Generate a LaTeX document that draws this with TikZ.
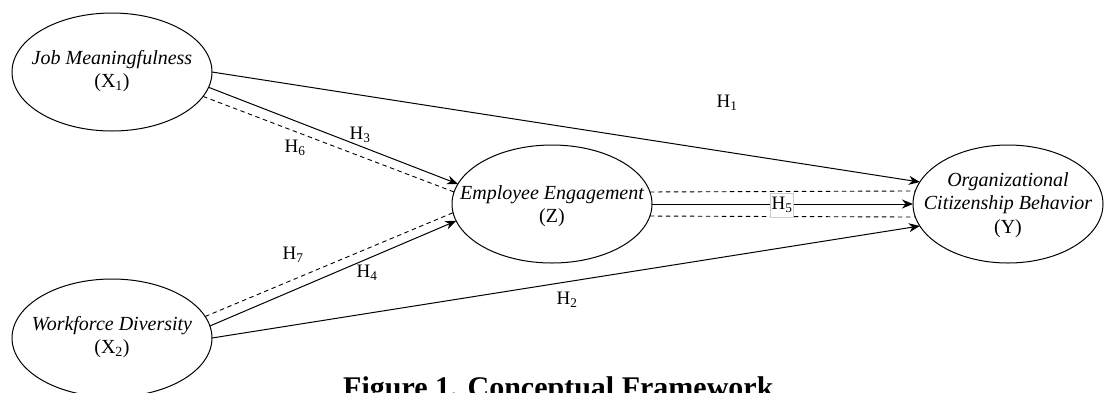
\documentclass[tikz,border=0pt]{standalone}
\usepackage{fontspec}
\setmainfont{Liberation Serif}
\usetikzlibrary{arrows.meta,shapes.geometric}
\begin{document}
\begin{tikzpicture}[x=1pt,y=-1pt,
  ell/.style={draw, ellipse, line width=1pt, minimum width=200pt, minimum height=118pt, inner sep=0pt, outer sep=0pt},
  nodetxt/.style={font=\fontsize{20}{23.5}\selectfont\itshape, align=center, inner sep=0pt},
  hyp/.style={font=\fontsize{19}{21}\selectfont, inner sep=1pt},
  solidarrow/.style={line width=1pt, -{Stealth[length=11pt,width=9pt]}},
  dashline/.style={line width=0.9pt, dash pattern=on 4.5pt off 3.5pt},
]
\useasboundingbox (0,0) rectangle (1105,392);
% ellipses
\node[ell] (X1) at (112,72) {};
\node[ell] (X2) at (112,338) {};
\node[ell] (Z) at (552,204) {};
\node[ell, minimum width=190pt] (Y) at (1008,204) {};
% texts
\node[nodetxt] (tX1) at (112,71) {Job Meaningfulness\\\upshape(X\textsubscript{1})};
\node[nodetxt] (tX2) at (112,337) {Workforce Diversity\\\upshape(X\textsubscript{2})};
\node[nodetxt] (tZ) at (552,206) {Employee Engagement\\\upshape(Z)};
\node[nodetxt] (tY) at (1008,205) {Organizational\\Citizenship Behavior\\\upshape(Y)};
% connectors
\draw[solidarrow] (X1.0) -- (Y.166.4);
\draw[solidarrow] (X1.-9.6) -- (Z.168.7);
\draw[dashline] (X1.-15.6) -- (Z.173);
\draw[dashline] (X2.13.9) -- (Z.185);
\draw[solidarrow] (X2.7.6) -- (Z.190.7);
\draw[solidarrow] (X2.0.6) -- (Y.194.8);
\draw[dashline] (Z.7.6) -- (Y.172);
\draw[dashline] (Z.-7.6) -- (Y.188);
\draw[solidarrow] (Z.0) -- (Y.180);
% labels
\node[hyp] (h1) at (727,103) {H\textsubscript{1}};
\node[hyp] (h3) at (360,135) {H\textsubscript{3}};
\node[hyp] (h6) at (295,148) {H\textsubscript{6}};
\node[hyp] (h7) at (293,255) {H\textsubscript{7}};
\node[hyp] (h4) at (367,273) {H\textsubscript{4}};
\node[hyp] (h2) at (567,300) {H\textsubscript{2}};
\node[hyp, fill=white, draw=gray!40, line width=0.5pt, minimum width=23pt, minimum height=24pt] (h5) at (782,205) {H\textsubscript{5}};
% caption
\node[font=\fontsize{30}{33}\selectfont\bfseries, anchor=base west, inner sep=0pt] (cap) at (343,397) {Figure 1. Conceptual Framework};
\end{tikzpicture}
\end{document}
